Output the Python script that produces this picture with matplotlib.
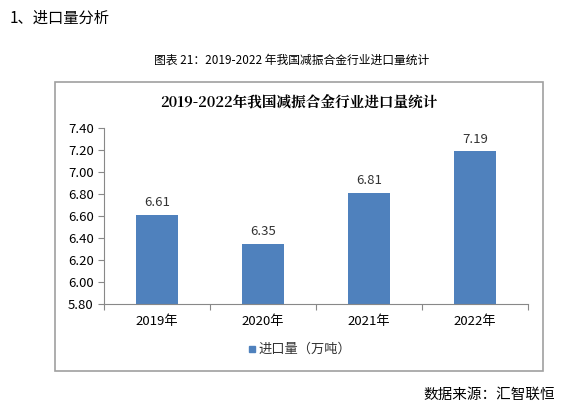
import matplotlib
matplotlib.use("Agg")
import matplotlib.pyplot as plt
from matplotlib.patches import Rectangle

plt.rcParams['font.family'] = ['Noto Sans CJK SC', 'DejaVu Sans']

years = ['2019年', '2020年', '2021年', '2022年']
values = [6.61, 6.35, 6.81, 7.19]
yticks = [5.80, 6.00, 6.20, 6.40, 6.60, 6.80, 7.00, 7.20, 7.40]
series_name = '进口量（万吨）'

W, H = 583, 418
fig = plt.figure(figsize=(W/100, H/100), dpi=100)
fig.patch.set_facecolor('white')

fig.text(10/W, 1-18/H, '1、进口量分析', fontsize=11, va='center', ha='left')
fig.text(292/W, 1-60/H, '图表 21：2019-2022 年我国减振合金行业进口量统计', fontsize=8.5, va='center', ha='center')
fig.text(555/W, 1-395/H, '数据来源：汇智联恒', fontsize=10.5, va='center', ha='right')

fig.patches.append(Rectangle((55/W, 1-371/H), (543-55)/W, (371-82)/H, transform=fig.transFigure,
                             fill=False, edgecolor='#a0a0a0', linewidth=1.2))
fig.text(299/W, 1-102/H, '2019-2022年我国减振合金行业进口量统计', fontsize=10.5, fontweight='bold',
         va='center', ha='center', family=['Noto Serif CJK SC', 'Noto Sans CJK SC', 'DejaVu Sans'])

ax = fig.add_axes([104/W, 1-304/H, (528-104)/W, (304-128)/H])
x = range(len(years))
ax.bar(x, values, width=0.4, color='#4f81bd')
for xi, v in zip(x, values):
    ax.text(xi, v + 0.05, f'{v:.2f}', ha='center', va='bottom', fontsize=9.5, color='#333333')
ax.set_ylim(5.80, 7.40)
ax.set_xlim(-0.5, 3.5)
ax.set_yticks(yticks)
ax.set_yticklabels([f'{t:.2f}' for t in yticks], fontsize=9.5)
ax.set_xticks([-0.5, 0.5, 1.5, 2.5, 3.5], minor=False)
ax.set_xticklabels([])
ax.set_xticks(list(x), minor=True)
ax.set_xticklabels(years, minor=True, fontsize=9.5)
ax.tick_params(axis='x', which='minor', length=0, pad=8)
ax.tick_params(axis='x', which='major', length=4, direction='out', color='#888888')
ax.tick_params(axis='y', length=4, color='#888888')
for s in ['top', 'right']:
    ax.spines[s].set_visible(False)
for s in ['left', 'bottom']:
    ax.spines[s].set_color('#888888')

fig.patches.append(Rectangle((249/W, 1-352/H), 6/W, 6/H, transform=fig.transFigure, color='#4f81bd'))
fig.text(258/W, 1-349/H, series_name, fontsize=9.5, va='center', ha='left', color='#333333')

fig.savefig('out.png', dpi=100)
